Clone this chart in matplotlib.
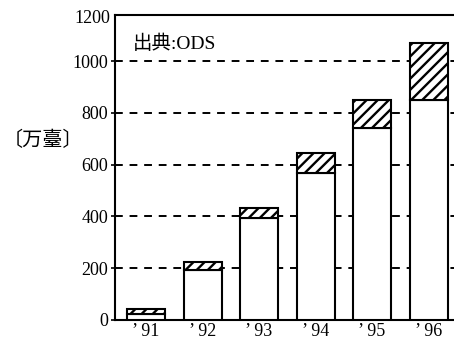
import matplotlib
matplotlib.use('Agg')
import matplotlib.pyplot as plt
import matplotlib.transforms as mtransforms

years = ["’ 91", "’ 92", "’ 93", "’ 94", "’ 95", "’ 96"]
base_values = [22, 192, 394, 568, 741, 850]
total_values = [42, 224, 432, 645, 850, 1068]
y_ticks = [0, 200, 400, 600, 800, 1000]

plt.rcParams['hatch.linewidth'] = 1.7
serif_cjk = ['Liberation Serif', 'Noto Sans CJK JP', 'DejaVu Sans']


def main():
    fig = plt.figure(figsize=(4.54, 3.47), dpi=100)
    ax = fig.add_axes([115 / 454, 27 / 347, 339 / 454, 305 / 347])

    x = list(range(len(years)))
    upper = [t - b for t, b in zip(total_values, base_values)]

    ax.bar(x, base_values, width=0.67, color='white', edgecolor='black',
           linewidth=1.5, zorder=3)
    ax.bar(x, upper, bottom=base_values, width=0.67, color='white',
           edgecolor='black', hatch='///', linewidth=1.5, zorder=3)

    ax.set_xlim(-0.55, 5.45)
    ax.set_ylim(0, 1178)

    # dashed grid behind the bars
    for v in y_ticks[1:]:
        ax.axhline(v, color='black', linestyle=(0, (4, 3.5)), linewidth=1.4,
                   zorder=1)

    ax.set_yticks(y_ticks)
    ax.set_yticklabels([str(v) for v in y_ticks], family='Liberation Serif',
                       fontsize=13)
    ax.set_xticks(x)
    ax.set_xticklabels(years, family='Liberation Serif', fontsize=13)
    ax.tick_params(axis='x', length=0, pad=2)
    ax.tick_params(axis='y', length=3, width=1.2, pad=2)

    # 1200 label sits at the top spine
    trans = mtransforms.blended_transform_factory(ax.transAxes, ax.transData)
    ax.text(-0.015, 1166, '1200', transform=trans, ha='right', va='center',
            family='Liberation Serif', fontsize=13)

    for side in ['left', 'bottom', 'top']:
        ax.spines[side].set_linewidth(1.5)
    ax.spines['right'].set_visible(False)

    ax.text(-0.23, 1068, '出典:ODS', ha='left', va='center',
            family=serif_cjk, fontsize=14)

    fig.text(43 / 454, 1 - 141 / 347, '〔万臺〕', ha='center', va='center',
             family=['Noto Sans CJK JP', 'DejaVu Sans'], fontsize=14.5)

    fig.savefig('out.png', dpi=100)
    plt.close(fig)


if __name__ == '__main__':
    main()
